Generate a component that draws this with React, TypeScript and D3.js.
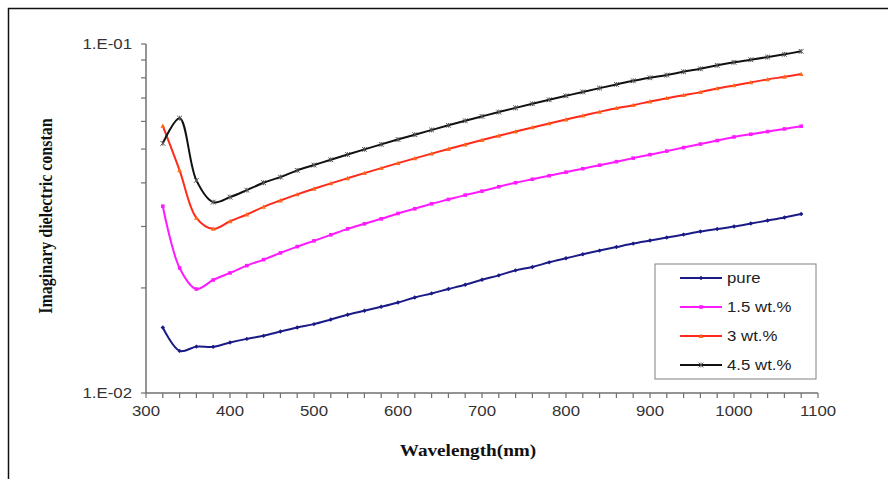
import React from "react";
import * as d3 from "d3";

const wavelengths = [320, 340, 360, 380, 400, 420, 440, 460, 480, 500, 520, 540, 560, 580, 600, 620, 640, 660, 680, 700, 720, 740, 760, 780, 800, 820, 840, 860, 880, 900, 920, 940, 960, 980, 1000, 1020, 1040, 1060, 1080];

const pure = [0.0154, 0.0132, 0.01358, 0.01356, 0.01395, 0.01429, 0.01458, 0.015, 0.0154, 0.01575, 0.01624, 0.01675, 0.0172, 0.01766, 0.01817, 0.01878, 0.01929, 0.01986, 0.02043, 0.02112, 0.02173, 0.02246, 0.02297, 0.02368, 0.02432, 0.02497, 0.02559, 0.02619, 0.0268, 0.02734, 0.02789, 0.02844, 0.02901, 0.0295, 0.02999, 0.03059, 0.03121, 0.03184, 0.03258];

const wt15 = [0.0343, 0.02282, 0.01986, 0.02108, 0.02208, 0.02317, 0.02411, 0.0252, 0.02627, 0.02729, 0.02839, 0.02954, 0.03053, 0.03156, 0.03269, 0.03372, 0.03485, 0.03586, 0.0369, 0.03788, 0.039, 0.04004, 0.04098, 0.04194, 0.04293, 0.04393, 0.04496, 0.04601, 0.0471, 0.04819, 0.04933, 0.05049, 0.05167, 0.05288, 0.05415, 0.05513, 0.05612, 0.0571, 0.05813];

const wt3 = [0.05824, 0.04344, 0.03177, 0.02954, 0.03106, 0.03247, 0.03416, 0.03562, 0.03707, 0.03848, 0.03986, 0.04125, 0.04267, 0.0441, 0.04556, 0.04703, 0.04852, 0.05002, 0.05153, 0.05305, 0.05459, 0.05612, 0.05767, 0.05922, 0.06077, 0.06231, 0.06391, 0.06549, 0.06679, 0.06844, 0.06996, 0.07136, 0.0728, 0.0746, 0.07609, 0.07762, 0.07918, 0.08054, 0.082];

const wt45 = [0.05194, 0.0613, 0.04066, 0.03523, 0.03641, 0.03813, 0.04004, 0.04156, 0.04344, 0.04499, 0.0466, 0.04823, 0.04989, 0.05157, 0.05326, 0.05498, 0.05671, 0.05848, 0.06025, 0.06202, 0.06382, 0.06561, 0.06741, 0.06922, 0.07103, 0.07289, 0.07475, 0.07659, 0.07844, 0.08002, 0.08145, 0.08325, 0.08492, 0.08686, 0.0886, 0.09014, 0.09175, 0.09341, 0.09528];

const xTickLabels = [300, 400, 500, 600, 700, 800, 900, 1000, 1100];
const xMinorTicks = [300, 320, 340, 360, 380, 400, 420, 440, 460, 480, 500, 520, 540, 560, 580, 600, 620, 640, 660, 680, 700, 720, 740, 760, 780, 800, 820, 840, 860, 880, 900, 920, 940, 960, 980, 1000, 1020, 1040, 1060, 1080, 1100];
const yTicks = [0.01, 0.02, 0.03, 0.04, 0.05, 0.06, 0.07, 0.08, 0.09, 0.1];
const yTickLabels = [
  { v: 0.01, label: "1.E-02" },
  { v: 0.1, label: "1.E-01" },
];
const seriesNames = ["pure", "1.5 wt.%", "3 wt.%", "4.5 wt.%"];
const seriesValues = [pure, wt15, wt3, wt45];
const lineColors = ["#1b1b87", "#ff1aff", "#ff2a1a", "#111111"];
const markerColors = ["#1b1b87", "#ff1aff", "#ff6a1a", "#555555"];
const markerTypes = ["diamond", "square", "triangle", "star"];

const SX = 1.2;

function Marker({ type, x, y, color }: { type: string; x: number; y: number; color: string }) {
  if (type === "diamond") {
    const s = 2.2;
    return <path d={`M${x},${y - s}L${x + s},${y}L${x},${y + s}L${x - s},${y}Z`} fill={color} />;
  }
  if (type === "square") {
    return <rect x={x - 1.8} y={y - 1.8} width={3.6} height={3.6} fill={color} />;
  }
  if (type === "triangle") {
    const s = 2.4;
    return <path d={`M${x},${y - s}L${x + s},${y + s * 0.8}L${x - s},${y + s * 0.8}Z`} fill={color} />;
  }
  const s = 2.4;
  return (
    <path
      d={`M${x - s},${y - s}L${x + s},${y + s}M${x - s},${y + s}L${x + s},${y - s}M${x},${y - s}L${x},${y + s}`}
      stroke={color}
      strokeWidth={1}
      fill="none"
    />
  );
}

function SText({ x, y, anchor, children, size = 14, fill = "#333", family, weight, dy }: any) {
  return (
    <text
      transform={`translate(${x},${y}) scale(${SX},1)`}
      textAnchor={anchor}
      fontSize={size}
      fill={fill}
      fontFamily={family}
      fontWeight={weight}
      dy={dy}
    >
      {children}
    </text>
  );
}

export default function App() {
  const x = d3.scaleLinear().domain([300, 1100]).range([146, 818]);
  const y = d3.scaleLog().domain([0.01, 0.1]).range([393, 44]);
  const line = d3
    .line<number>()
    .x((_, i) => x(wavelengths[i]))
    .y((d) => y(d))
    .curve(d3.curveCatmullRom.alpha(0.5));

  const legendX = 655;
  const legendY = 264;
  const rows = [278, 307, 336, 365];

  return (
    <svg
      width={888}
      height={479}
      style={{ position: "absolute", left: 0, top: 0, background: "#fff" }}
      fontFamily="'Liberation Sans', Arial, sans-serif"
    >
      <rect x={0} y={0} width={888} height={479} fill="#fff" />
      <rect x={8.5} y={8.5} width={900} height={500} fill="none" stroke="#111" strokeWidth={1.5} />

      {/* y axis */}
      <line x1={146} x2={146} y1={y(0.1)} y2={y(0.01)} stroke="#707070" strokeWidth={1.5} />
      {yTicks.map((t) => (
        <line key={t} x1={141} x2={146} y1={y(t)} y2={y(t)} stroke="#707070" strokeWidth={1.2} />
      ))}
      {yTickLabels.map((t) => (
        <SText key={t.label} x={132} y={y(t.v)} dy="0.35em" anchor="end">
          {t.label}
        </SText>
      ))}

      {/* x axis */}
      <line x1={146} x2={818} y1={393} y2={393} stroke="#707070" strokeWidth={1.5} />
      {xMinorTicks.map((t) => (
        <line key={t} x1={x(t)} x2={x(t)} y1={393} y2={398} stroke="#707070" strokeWidth={1.2} />
      ))}
      {xTickLabels.map((t) => (
        <SText key={t} x={x(t)} y={416} anchor="middle">
          {t}
        </SText>
      ))}

      {/* axis titles */}
      <SText
        x={468}
        y={456}
        anchor="middle"
        family="'Liberation Serif', 'Times New Roman', serif"
        weight="bold"
        size={16}
        fill="#111"
      >
        Wavelength(nm)
      </SText>
      <text
        transform={`translate(52,216) scale(${SX},1) rotate(-90)`}
        textAnchor="middle"
        fontFamily="'Liberation Serif', 'Times New Roman', serif"
        fontWeight="bold"
        fontSize={16}
        fill="#111"
      >
        Imaginary dielectric constan
      </text>

      {/* series */}
      {seriesValues.map((vals, si) => (
        <g key={si}>
          <path d={line(vals) || ""} fill="none" stroke={lineColors[si]} strokeWidth={2} />
          {vals.map((v, i) => (
            <Marker key={i} type={markerTypes[si]} x={x(wavelengths[i])} y={y(v)} color={markerColors[si]} />
          ))}
        </g>
      ))}

      {/* legend */}
      <rect x={legendX} y={legendY} width={161} height={115} fill="#fff" stroke="#808080" strokeWidth={1} />
      {seriesNames.map((name, i) => (
        <g key={name}>
          <line x1={680} x2={722} y1={rows[i]} y2={rows[i]} stroke={lineColors[i]} strokeWidth={2} />
          <Marker type={markerTypes[i]} x={701} y={rows[i]} color={markerColors[i]} />
          <SText x={727} y={rows[i]} dy="0.35em" anchor="start" fill="#222">
            {name}
          </SText>
        </g>
      ))}
    </svg>
  );
}
